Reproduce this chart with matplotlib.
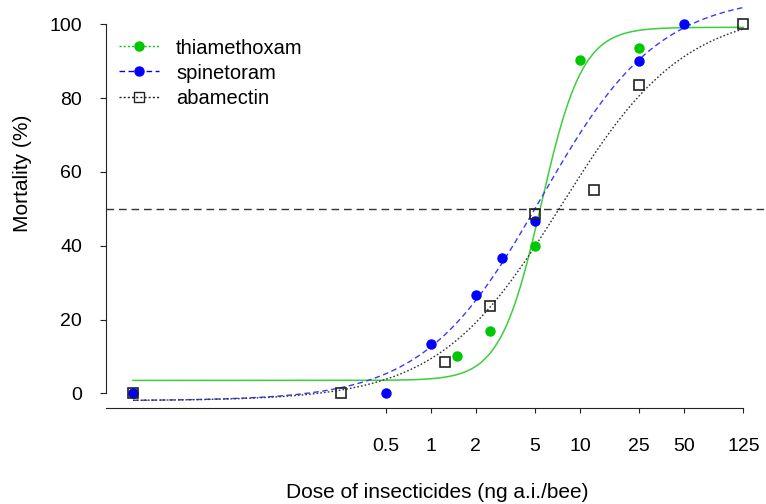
import numpy as np
import matplotlib.pyplot as plt
from matplotlib.lines import Line2D

plt.rcParams['font.family'] = ['Liberation Sans', 'DejaVu Sans']

# observed mortality (%) per dose (ng a.i./bee); 0.01 stands for the control
thia_dose = [0.01, 1.5, 2.5, 5, 10, 25]
thia_mort = [0, 10.2, 16.9, 40.0, 90.3, 93.5]
spin_dose = [0.01, 0.5, 1, 2, 3, 5, 25, 50]
spin_mort = [0, 0, 13.5, 26.7, 36.8, 46.7, 90.2, 100]
abam_dose = [0.01, 0.25, 1.25, 2.5, 5, 12.5, 25, 125]
abam_mort = [0, 0, 8.4, 23.6, 48.5, 55.2, 83.5, 100]

# four-parameter log-logistic fits: (slope b, lower c, upper d, ED50 e)
thia_fit = (3.14, 3.5, 99.2, 5.5)
spin_fit = (1.1, -2.0, 108.0, 5.5)
abam_fit = (1.05, -2.0, 104.0, 7.5)

dose_ticks = [0.5, 1, 2, 5, 10, 25, 50, 125]
mort_ticks = [0, 20, 40, 60, 80, 100]


def ll4(x, b, c, d, e):
    return c + (d - c) / (1 + np.exp(-b * (np.log(x) - np.log(e))))


fig = plt.figure(figsize=(7.66, 5.04), dpi=100)
ax = fig.add_axes([106 / 766, 96 / 504, 660 / 766, 408 / 504])
ax.set_xscale('log')
ax.set_xlim(10 ** ((106 - 431) / 149), 10 ** ((766 - 431) / 149))
ax.set_ylim(-3.98, 106.6)

green = '#00c800'
xs = np.logspace(-2, np.log10(125), 400)

ax.plot(thia_dose, thia_mort, 'o', color=green, ms=6.5, zorder=3)
ax.plot(spin_dose, spin_mort, 'o', color='blue', ms=6.5, zorder=4)
ax.plot(abam_dose, abam_mort, 's', mfc='none', mec='#222222', mew=1.2, ms=7, zorder=5)

ax.plot(xs, ll4(xs, *thia_fit), '-', color='#3ccf3c', lw=1.1)
ax.plot(xs, ll4(xs, *spin_fit), color='#3a3aff', lw=1.0, dashes=(4, 2.5))
ax.plot(xs, ll4(xs, *abam_fit), color='#333333', lw=1.0, dashes=(1.2, 1.5))

ax.axhline(50, color='#333333', lw=1.0, dashes=(5.5, 3.5))

for s in ['top', 'right']:
    ax.spines[s].set_visible(False)
ax.spines['left'].set_bounds(0, 100)
ax.spines['bottom'].set_bounds(ax.get_xlim()[0], 125)
ax.spines['left'].set_color('#222222')
ax.spines['bottom'].set_color('#222222')

ax.set_xticks(dose_ticks)
ax.set_xticklabels([str(t) for t in dose_ticks])
ax.minorticks_off()
ax.set_yticks(mort_ticks)
ax.tick_params(axis='x', length=3.6, pad=18, labelsize=14, color='#222222')
ax.tick_params(axis='y', length=4.3, pad=13, labelsize=14, color='#222222')

fig.text(23 / 766, 1 - 173 / 504, 'Mortality (%)', rotation=90,
         ha='center', va='center', fontsize=15)
fig.text(437 / 766, 1 - 492 / 504, 'Dose of insecticides (ng a.i./bee)',
         ha='center', va='center', fontsize=15)

handles = [
    Line2D([], [], color=green, marker='o', ms=6.5, lw=1.0, dashes=(1.5, 1.5)),
    Line2D([], [], color='blue', marker='o', ms=6.5, lw=1.0, dashes=(4, 2.5)),
    Line2D([], [], color='#222222', marker='s', mfc='none', ms=6.5, lw=1.0, dashes=(1.5, 1.5)),
]
ax.legend(handles, ['thiamethoxam', 'spinetoram', 'abamectin'],
          loc='upper left', bbox_to_anchor=(119 / 766, 1 - 38.5 / 504),
          bbox_transform=fig.transFigure, frameon=False, fontsize=14.5,
          handlelength=2.0, handletextpad=0.84, labelspacing=0.3,
          borderpad=0, borderaxespad=0)

fig.savefig('out.png', dpi=100)
